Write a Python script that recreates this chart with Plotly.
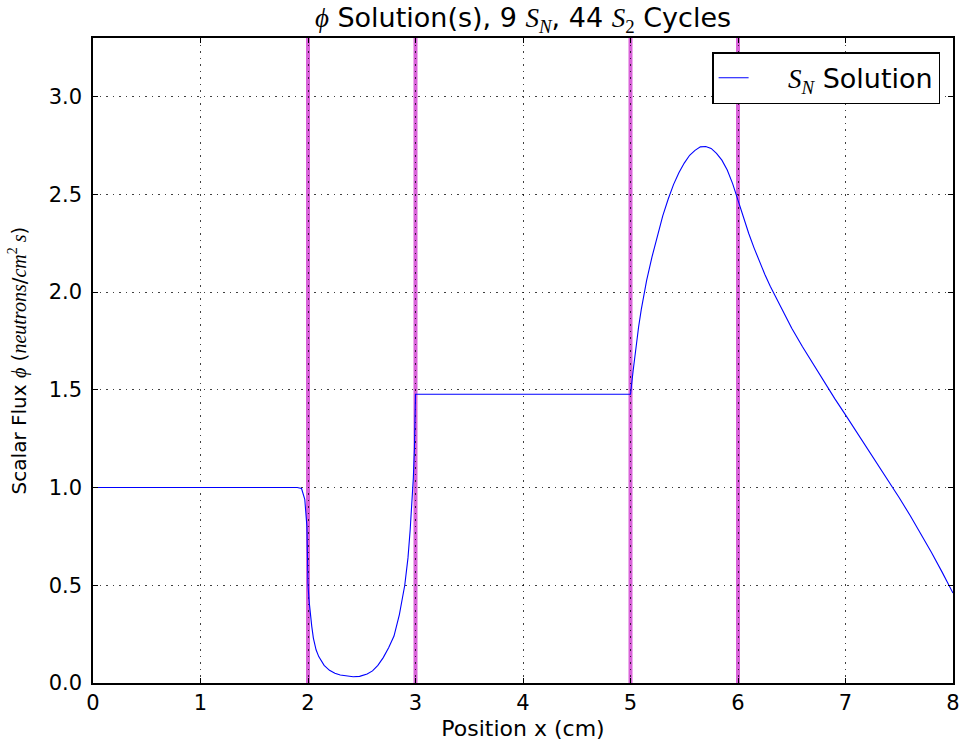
import plotly.graph_objects as go

# --- data ---
x_pos = [0.0, 0.5, 1.0, 1.5, 1.8, 1.9, 1.94, 1.97, 1.99, 2.0,
         2.01, 2.02, 2.035, 2.05, 2.075, 2.1, 2.15, 2.2, 2.25, 2.3,
         2.36, 2.42, 2.48, 2.55, 2.6, 2.65, 2.7, 2.75, 2.8, 2.85,
         2.9, 2.93, 2.95, 2.97, 2.98, 2.99, 3.0,
         3.5, 4.0, 4.5, 5.0,
         5.025, 5.05, 5.075, 5.1, 5.15, 5.2, 5.25, 5.3, 5.35, 5.4,
         5.45, 5.5, 5.55, 5.6, 5.65, 5.7, 5.75, 5.8, 5.85, 5.9, 5.95, 6.0,
         6.05, 6.1, 6.15, 6.2, 6.25, 6.3, 6.4, 6.5, 6.6, 6.7, 6.8, 6.9,
         7.0, 7.1, 7.2, 7.3, 7.4, 7.5, 7.6, 7.7, 7.8, 7.9, 8.0]
phi = [1.0, 1.0, 1.0, 1.0, 1.0, 1.0, 0.995, 0.94, 0.8, 0.5,
       0.42, 0.36, 0.29, 0.23, 0.17, 0.135, 0.09, 0.065, 0.05, 0.041,
       0.035, 0.032, 0.034, 0.046, 0.062, 0.09, 0.13, 0.18, 0.24, 0.35,
       0.5, 0.64, 0.78, 0.95, 1.05, 1.2, 1.477,
       1.477, 1.477, 1.477, 1.477,
       1.60, 1.715, 1.82, 1.91, 2.06, 2.18, 2.29, 2.39, 2.475, 2.55,
       2.61, 2.66, 2.70, 2.725, 2.743, 2.745, 2.735, 2.71, 2.675, 2.625, 2.555, 2.47,
       2.38, 2.30, 2.225, 2.155, 2.09, 2.03, 1.92, 1.815, 1.72, 1.63, 1.54, 1.455,
       1.372, 1.288, 1.204, 1.12, 1.035, 0.948, 0.858, 0.765, 0.668, 0.566, 0.46]
region_boundaries = [2, 3, 5, 6]
x_ticks = [0, 1, 2, 3, 4, 5, 6, 7, 8]
y_ticks = [0.0, 0.5, 1.0, 1.5, 2.0, 2.5, 3.0]
y_tick_labels = ["0.0", "0.5", "1.0", "1.5", "2.0", "2.5", "3.0"]

SERIF = "font-family:Liberation Serif"

def m(s):
    return f"<span style='{SERIF}'><i>{s}</i></span>"

def sub(s):
    return f"<span style='{SERIF}'><sub><i>{s}</i></sub></span>"

fig = go.Figure()

for b in region_boundaries:
    fig.add_vline(x=b, line=dict(color="rgba(210,70,210,0.85)", width=4), layer="below")

fig.add_trace(go.Scatter(
    x=x_pos, y=phi, mode="lines",
    line=dict(color="#0000ff", width=1.1),
    name="&nbsp;&nbsp;&nbsp;&nbsp;" + m("S") + sub("N") + " Solution",
    showlegend=True,
))

W, H = 964, 746
fig.update_layout(
    width=W, height=H,
    margin=dict(l=93, r=11, t=38, b=63, autoexpand=False),
    paper_bgcolor="white", plot_bgcolor="white",
    font=dict(family="DejaVu Sans", size=21, color="black"),
    title=dict(
        text=m("ϕ") + " Solution(s), 9 " + m("S") + sub("N") + ", 44 "
             + m("S") + f"<span style='{SERIF}'><sub>2</sub></span> Cycles",
        x=(93 + 430) / W, xanchor="center", y=1 - 18 / H, yanchor="middle",
        font=dict(size=27),
    ),
    legend=dict(
        x=0.985, y=0.978, xanchor="right", yanchor="top",
        bgcolor="white", bordercolor="black", borderwidth=1.5,
        font=dict(size=27),
    ),
    showlegend=True,
)

GRID = dict(showgrid=True, gridcolor="rgba(0,0,0,0.75)", griddash="1.5px,5px", gridwidth=1.2)

fig.update_xaxes(
    range=[0, 8], tickvals=x_ticks, ticktext=[str(t) for t in x_ticks],
    showline=True, linecolor="black", linewidth=1.5, mirror="ticks",
    ticks="inside", ticklen=5, tickcolor="black",
    zeroline=False, automargin=False, tickfont=dict(size=21),
    ticklabeloverflow="allow",
    title=dict(text="Position x (cm)", font=dict(size=22), standoff=7),
    **GRID,
)
fig.update_yaxes(
    range=[0, 3.3], tickvals=y_ticks, ticktext=y_tick_labels,
    showline=True, linecolor="black", linewidth=1.5, mirror="ticks",
    ticks="inside", ticklen=5, tickcolor="black", ticklabelstandoff=5,
    zeroline=False, automargin=False, tickfont=dict(size=21),
    title=dict(
        text="Scalar Flux " + m("ϕ") + " (" + m("neutrons") + "/" + m("cm")
             + f"<span style='{SERIF}'><sup>2</sup></span>" + m(" s") + ")",
        font=dict(size=20), standoff=17,
    ),
    **GRID,
)

fig.write_html(
    "out.html",
    config={"displayModeBar": False},
    post_script=(
        "document.body.style.margin='0px';"
        "document.body.style.overflow='hidden';"
        "document.documentElement.style.overflow='hidden';"
    ),
)
